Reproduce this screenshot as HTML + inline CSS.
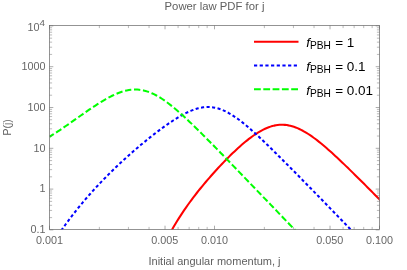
<!DOCTYPE html>
<html><head><meta charset="utf-8"><style>
html,body{margin:0;padding:0;background:#fff}
svg{display:block;will-change:transform}
text{font-family:"Liberation Sans",sans-serif}
.tl{font-size:10.8px;fill:#666}
.mt{stroke:#666;stroke-width:0.45;fill:none}
.Mt{stroke:#666;stroke-width:0.55;fill:none}
.c{fill:none;stroke-width:2.05;stroke-linejoin:round}
.lg{font-size:13.5px;fill:#000}
</style></head><body>
<svg width="407" height="270" viewBox="0 0 407 270">
<rect width="407" height="270" fill="#fff"/>
<clipPath id="cp"><rect x="49.5" y="25.5" width="330.0" height="204.0"/></clipPath>
<g clip-path="url(#cp)">
<path class="c" stroke="#ff0000" d="M168.00 237.10 L169.80 233.73 L171.60 230.47 L173.39 227.31 L175.19 224.25 L176.99 221.28 L178.79 218.39 L180.59 215.58 L182.39 212.84 L184.18 210.17 L185.98 207.56 L187.78 205.01 L189.58 202.51 L191.38 200.07 L193.18 197.67 L194.97 195.32 L196.77 193.00 L198.57 190.73 L200.37 188.49 L202.17 186.29 L203.97 184.12 L205.76 181.98 L207.56 179.88 L209.36 177.80 L211.16 175.74 L212.96 173.72 L214.76 171.72 L216.55 169.74 L218.35 167.80 L220.15 165.87 L221.95 163.97 L223.75 162.10 L225.55 160.25 L227.34 158.42 L229.14 156.62 L230.94 154.85 L232.74 153.11 L234.54 151.39 L236.34 149.71 L238.13 148.06 L239.93 146.44 L241.73 144.85 L243.53 143.31 L245.33 141.81 L247.13 140.34 L248.92 138.93 L250.72 137.56 L252.52 136.24 L254.32 134.98 L256.12 133.78 L257.92 132.63 L259.71 131.55 L261.51 130.54 L263.31 129.60 L265.11 128.73 L266.91 127.95 L268.71 127.24 L270.50 126.62 L272.30 126.08 L274.10 125.63 L275.90 125.27 L277.70 125.01 L279.50 124.83 L281.29 124.76 L283.09 124.77 L284.89 124.88 L286.69 125.08 L288.49 125.38 L290.29 125.76 L292.08 126.24 L293.88 126.80 L295.68 127.44 L297.48 128.16 L299.28 128.96 L301.08 129.84 L302.87 130.78 L304.67 131.79 L306.47 132.87 L308.27 134.00 L310.07 135.19 L311.87 136.43 L313.66 137.72 L315.46 139.05 L317.26 140.43 L319.06 141.84 L320.86 143.29 L322.66 144.78 L324.45 146.29 L326.25 147.84 L328.05 149.41 L329.85 151.00 L331.65 152.61 L333.45 154.25 L335.24 155.90 L337.04 157.57 L338.84 159.25 L340.64 160.95 L342.44 162.66 L344.24 164.38 L346.03 166.12 L347.83 167.86 L349.63 169.61 L351.43 171.37 L353.23 173.13 L355.03 174.90 L356.82 176.68 L358.62 178.46 L360.42 180.25 L362.22 182.04 L364.02 183.84 L365.82 185.63 L367.61 187.44 L369.41 189.24 L371.21 191.05 L373.01 192.86 L374.81 194.67 L376.61 196.48 L378.40 198.30 L380.20 200.12 L382.00 201.94"/>
<path class="c" stroke="#0000ff" stroke-dasharray="3.1 2.45" d="M58.00 235.11 L60.50 231.49 L63.01 227.94 L65.51 224.48 L68.02 221.09 L70.52 217.77 L73.03 214.52 L75.53 211.33 L78.03 208.21 L80.54 205.15 L83.04 202.15 L85.55 199.20 L88.05 196.31 L90.55 193.47 L93.06 190.68 L95.56 187.93 L98.07 185.24 L100.57 182.58 L103.08 179.97 L105.58 177.41 L108.08 174.88 L110.59 172.39 L113.09 169.93 L115.60 167.52 L118.10 165.13 L120.61 162.78 L123.11 160.47 L125.61 158.18 L128.12 155.92 L130.62 153.70 L133.13 151.50 L135.63 149.33 L138.13 147.19 L140.64 145.08 L143.14 143.00 L145.65 140.94 L148.15 138.91 L150.66 136.92 L153.16 134.95 L155.66 133.01 L158.17 131.10 L160.67 129.23 L163.18 127.40 L165.68 125.60 L168.18 123.85 L170.69 122.14 L173.19 120.49 L175.70 118.89 L178.20 117.36 L180.71 115.89 L183.21 114.51 L185.71 113.20 L188.22 112.00 L190.72 110.90 L193.23 109.91 L195.73 109.06 L198.24 108.34 L200.74 107.77 L203.24 107.35 L205.75 107.10 L208.25 107.03 L210.76 107.13 L213.26 107.41 L215.76 107.88 L218.27 108.52 L220.77 109.34 L223.28 110.33 L225.78 111.48 L228.29 112.78 L230.79 114.22 L233.29 115.78 L235.80 117.47 L238.30 119.26 L240.81 121.15 L243.31 123.13 L245.82 125.17 L248.32 127.29 L250.82 129.46 L253.33 131.69 L255.83 133.96 L258.34 136.27 L260.84 138.61 L263.34 140.98 L265.85 143.38 L268.35 145.80 L270.86 148.24 L273.36 150.70 L275.87 153.17 L278.37 155.65 L280.87 158.15 L283.38 160.65 L285.88 163.16 L288.39 165.68 L290.89 168.21 L293.39 170.74 L295.90 173.28 L298.40 175.82 L300.91 178.37 L303.41 180.91 L305.92 183.47 L308.42 186.02 L310.92 188.58 L313.43 191.14 L315.93 193.71 L318.44 196.27 L320.94 198.84 L323.45 201.41 L325.95 203.98 L328.45 206.55 L330.96 209.13 L333.46 211.70 L335.97 214.28 L338.47 216.86 L340.97 219.43 L343.48 222.01 L345.98 224.59 L348.49 227.18 L350.99 229.76 L353.50 232.34 L356.00 234.93"/>
<path class="c" stroke="#00ff00" stroke-dasharray="6.3 2.7" stroke-dashoffset="1.2" d="M49.50 136.76 L51.59 135.48 L53.68 134.16 L55.76 132.81 L57.85 131.44 L59.94 130.05 L62.03 128.63 L64.12 127.21 L66.21 125.76 L68.29 124.31 L70.38 122.85 L72.47 121.39 L74.56 119.92 L76.65 118.44 L78.74 116.97 L80.82 115.51 L82.91 114.04 L85.00 112.59 L87.09 111.14 L89.18 109.71 L91.26 108.29 L93.35 106.90 L95.44 105.52 L97.53 104.17 L99.62 102.85 L101.71 101.56 L103.79 100.31 L105.88 99.10 L107.97 97.94 L110.06 96.83 L112.15 95.78 L114.24 94.79 L116.32 93.86 L118.41 93.01 L120.50 92.24 L122.59 91.56 L124.68 90.97 L126.76 90.47 L128.85 90.08 L130.94 89.79 L133.03 89.61 L135.12 89.54 L137.21 89.59 L139.29 89.76 L141.38 90.05 L143.47 90.45 L145.56 90.97 L147.65 91.61 L149.74 92.36 L151.82 93.22 L153.91 94.19 L156.00 95.25 L158.09 96.41 L160.18 97.66 L162.26 99.00 L164.35 100.41 L166.44 101.90 L168.53 103.45 L170.62 105.07 L172.71 106.74 L174.79 108.47 L176.88 110.24 L178.97 112.05 L181.06 113.91 L183.15 115.79 L185.24 117.71 L187.32 119.66 L189.41 121.63 L191.50 123.63 L193.59 125.64 L195.68 127.68 L197.76 129.73 L199.85 131.79 L201.94 133.87 L204.03 135.95 L206.12 138.05 L208.21 140.16 L210.29 142.27 L212.38 144.39 L214.47 146.52 L216.56 148.65 L218.65 150.79 L220.74 152.93 L222.82 155.08 L224.91 157.23 L227.00 159.38 L229.09 161.54 L231.18 163.69 L233.26 165.85 L235.35 168.01 L237.44 170.18 L239.53 172.34 L241.62 174.51 L243.71 176.67 L245.79 178.84 L247.88 181.01 L249.97 183.18 L252.06 185.35 L254.15 187.52 L256.24 189.69 L258.32 191.86 L260.41 194.03 L262.50 196.20 L264.59 198.38 L266.68 200.55 L268.76 202.72 L270.85 204.89 L272.94 207.07 L275.03 209.24 L277.12 211.41 L279.21 213.59 L281.29 215.76 L283.38 217.94 L285.47 220.11 L287.56 222.29 L289.65 224.46 L291.74 226.63 L293.82 228.81 L295.91 230.98 L298.00 233.16"/>
</g>
<path d="M49.5 217.62h2.6M379.5 217.62h-2.6" class="mt"/>
<path d="M49.5 210.43h2.6M379.5 210.43h-2.6" class="mt"/>
<path d="M49.5 205.34h2.6M379.5 205.34h-2.6" class="mt"/>
<path d="M49.5 201.38h2.6M379.5 201.38h-2.6" class="mt"/>
<path d="M49.5 198.15h2.6M379.5 198.15h-2.6" class="mt"/>
<path d="M49.5 195.42h2.6M379.5 195.42h-2.6" class="mt"/>
<path d="M49.5 193.05h2.6M379.5 193.05h-2.6" class="mt"/>
<path d="M49.5 190.97h2.6M379.5 190.97h-2.6" class="mt"/>
<path d="M49.5 229.90h3.8M379.5 229.90h-3.8" class="Mt"/>
<path d="M49.5 176.82h2.6M379.5 176.82h-2.6" class="mt"/>
<path d="M49.5 169.63h2.6M379.5 169.63h-2.6" class="mt"/>
<path d="M49.5 164.54h2.6M379.5 164.54h-2.6" class="mt"/>
<path d="M49.5 160.58h2.6M379.5 160.58h-2.6" class="mt"/>
<path d="M49.5 157.35h2.6M379.5 157.35h-2.6" class="mt"/>
<path d="M49.5 154.62h2.6M379.5 154.62h-2.6" class="mt"/>
<path d="M49.5 152.25h2.6M379.5 152.25h-2.6" class="mt"/>
<path d="M49.5 150.17h2.6M379.5 150.17h-2.6" class="mt"/>
<path d="M49.5 189.10h3.8M379.5 189.10h-3.8" class="Mt"/>
<path d="M49.5 136.02h2.6M379.5 136.02h-2.6" class="mt"/>
<path d="M49.5 128.83h2.6M379.5 128.83h-2.6" class="mt"/>
<path d="M49.5 123.74h2.6M379.5 123.74h-2.6" class="mt"/>
<path d="M49.5 119.78h2.6M379.5 119.78h-2.6" class="mt"/>
<path d="M49.5 116.55h2.6M379.5 116.55h-2.6" class="mt"/>
<path d="M49.5 113.82h2.6M379.5 113.82h-2.6" class="mt"/>
<path d="M49.5 111.45h2.6M379.5 111.45h-2.6" class="mt"/>
<path d="M49.5 109.37h2.6M379.5 109.37h-2.6" class="mt"/>
<path d="M49.5 148.30h3.8M379.5 148.30h-3.8" class="Mt"/>
<path d="M49.5 95.22h2.6M379.5 95.22h-2.6" class="mt"/>
<path d="M49.5 88.03h2.6M379.5 88.03h-2.6" class="mt"/>
<path d="M49.5 82.94h2.6M379.5 82.94h-2.6" class="mt"/>
<path d="M49.5 78.98h2.6M379.5 78.98h-2.6" class="mt"/>
<path d="M49.5 75.75h2.6M379.5 75.75h-2.6" class="mt"/>
<path d="M49.5 73.02h2.6M379.5 73.02h-2.6" class="mt"/>
<path d="M49.5 70.65h2.6M379.5 70.65h-2.6" class="mt"/>
<path d="M49.5 68.57h2.6M379.5 68.57h-2.6" class="mt"/>
<path d="M49.5 107.50h3.8M379.5 107.50h-3.8" class="Mt"/>
<path d="M49.5 54.42h2.6M379.5 54.42h-2.6" class="mt"/>
<path d="M49.5 47.23h2.6M379.5 47.23h-2.6" class="mt"/>
<path d="M49.5 42.14h2.6M379.5 42.14h-2.6" class="mt"/>
<path d="M49.5 38.18h2.6M379.5 38.18h-2.6" class="mt"/>
<path d="M49.5 34.95h2.6M379.5 34.95h-2.6" class="mt"/>
<path d="M49.5 32.22h2.6M379.5 32.22h-2.6" class="mt"/>
<path d="M49.5 29.85h2.6M379.5 29.85h-2.6" class="mt"/>
<path d="M49.5 27.77h2.6M379.5 27.77h-2.6" class="mt"/>
<path d="M49.5 66.70h3.8M379.5 66.70h-3.8" class="Mt"/>
<path d="M49.5 25.90h3.8M379.5 25.90h-3.8" class="Mt"/>
<path d="M99.37 229.5v-2.6M99.37 25.5v2.6" class="mt"/>
<path d="M128.43 229.5v-2.6M128.43 25.5v2.6" class="mt"/>
<path d="M149.04 229.5v-2.6M149.04 25.5v2.6" class="mt"/>
<path d="M165.03 229.5v-3.8M165.03 25.5v3.8" class="Mt"/>
<path d="M178.09 229.5v-2.6M178.09 25.5v2.6" class="mt"/>
<path d="M189.14 229.5v-2.6M189.14 25.5v2.6" class="mt"/>
<path d="M198.71 229.5v-2.6M198.71 25.5v2.6" class="mt"/>
<path d="M207.15 229.5v-2.6M207.15 25.5v2.6" class="mt"/>
<path d="M49.50 229.5v-3.8M49.50 25.5v3.8" class="Mt"/>
<path d="M264.37 229.5v-2.6M264.37 25.5v2.6" class="mt"/>
<path d="M293.43 229.5v-2.6M293.43 25.5v2.6" class="mt"/>
<path d="M314.04 229.5v-2.6M314.04 25.5v2.6" class="mt"/>
<path d="M330.03 229.5v-3.8M330.03 25.5v3.8" class="Mt"/>
<path d="M343.09 229.5v-2.6M343.09 25.5v2.6" class="mt"/>
<path d="M354.14 229.5v-2.6M354.14 25.5v2.6" class="mt"/>
<path d="M363.71 229.5v-2.6M363.71 25.5v2.6" class="mt"/>
<path d="M372.15 229.5v-2.6M372.15 25.5v2.6" class="mt"/>
<path d="M214.50 229.5v-3.8M214.50 25.5v3.8" class="Mt"/>
<path d="M379.50 229.5v-3.8M379.50 25.5v3.8" class="Mt"/>
<rect x="49.5" y="25.5" width="330.0" height="204.0" fill="none" stroke="#666" stroke-width="0.7"/>
<text x="45.6" y="233.1" text-anchor="end" class="tl">0.1</text>
<text x="45.6" y="192.3" text-anchor="end" class="tl">1</text>
<text x="45.6" y="151.5" text-anchor="end" class="tl">10</text>
<text x="45.6" y="110.7" text-anchor="end" class="tl">100</text>
<text x="45.6" y="69.9" text-anchor="end" class="tl">1000</text>
<text x="45" y="30.7" text-anchor="end" class="tl"><tspan dx="0">10</tspan><tspan dy="-5" font-size="9.8">4</tspan></text>
<text x="49.5" y="243.6" text-anchor="middle" class="tl">0.001</text>
<text x="164.8" y="243.6" text-anchor="middle" class="tl">0.005</text>
<text x="214.5" y="243.6" text-anchor="middle" class="tl">0.010</text>
<text x="329.8" y="243.6" text-anchor="middle" class="tl">0.050</text>
<text x="379.5" y="243.6" text-anchor="middle" class="tl">0.100</text>
<text x="214.5" y="9.9" text-anchor="middle" font-size="11.3" fill="#606060">Power law PDF for j</text>
<text x="214.5" y="264.6" text-anchor="middle" font-size="11" fill="#606060">Initial angular momentum, j</text>
<text transform="translate(10.6 127.4) rotate(-90)" text-anchor="middle" font-size="10.5" fill="#606060">P(j)</text>
<path d="M254 41.8H298.5" class="c" stroke="#ff0000"/>
<path d="M254 65.4H298.5" class="c" stroke="#0000ff" stroke-dasharray="3.2 2.48"/>
<path d="M254 89.2H298.5" class="c" stroke="#00ff00" stroke-dasharray="6.8 2.5"/>
<text x="306.2" y="47.2" class="lg"><tspan font-style="italic">f</tspan><tspan font-size="10.2" dy="1.4">PBH</tspan><tspan dy="-1.4" dx="0.5"> = 1</tspan></text>
<text x="306.2" y="71.1" class="lg"><tspan font-style="italic">f</tspan><tspan font-size="10.2" dy="1.4">PBH</tspan><tspan dy="-1.4" dx="0.5"> = 0.1</tspan></text>
<text x="306.2" y="95.1" class="lg"><tspan font-style="italic">f</tspan><tspan font-size="10.2" dy="1.4">PBH</tspan><tspan dy="-1.4" dx="0.5"> = 0.01</tspan></text>
</svg>
</body></html>
